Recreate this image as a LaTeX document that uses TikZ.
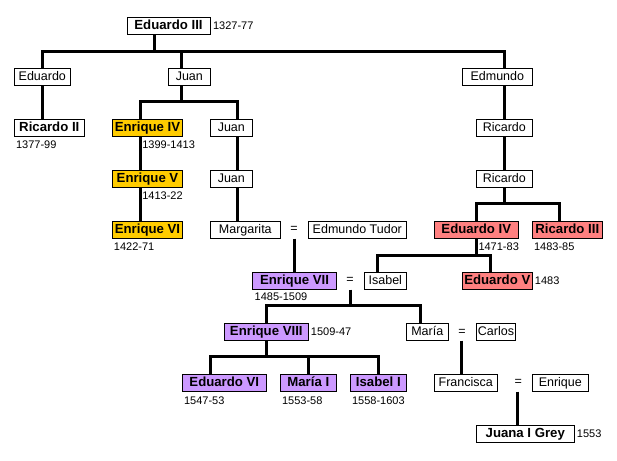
\documentclass[tikz,border=0pt]{standalone}
\usepackage{fontspec}
\setmainfont{Liberation Sans}
\definecolor{gold}{RGB}{255,204,0}
\definecolor{rosy}{RGB}{255,128,128}
\definecolor{lilac}{RGB}{204,153,255}
\tikzset{
  person/.style={draw, line width=0.8pt, fill=white, inner sep=0pt, minimum height=17pt,
    text height=0.716em, text depth=0pt, font=\fontsize{12.5}{13}\selectfont},
  ruler/.style={person, font=\fontsize{13.2}{14}\selectfont\bfseries},
  lancaster/.style={ruler, fill=gold},
  york/.style={ruler, fill=rosy},
  tudor/.style={ruler, fill=lilac},
  dates/.style={inner sep=0pt, font=\fontsize{11}{12}\selectfont},
  eqsign/.style={inner sep=0pt, minimum height=17pt, font=\fontsize{12.5}{13}\selectfont},
  link/.style={line width=3pt}
}
\begin{document}
\begin{tikzpicture}[x=1pt,y=-1pt]
\useasboundingbox (0,0) rectangle (617,460);
% nodes
\node[ruler, minimum width=83pt] (E3) at (168.5,25.8) {Eduardo III};
\node[person, minimum width=56pt] (Edw) at (42.3,76.8) {Eduardo};
\node[person, minimum width=42pt] (Jn1) at (189.3,76.8) {Juan};
\node[person, minimum width=70pt] (Edm) at (497.3,76.8) {Edmundo};
\node[ruler, minimum width=70pt] (R2) at (49.3,127.8) {Ricardo II};
\node[lancaster, minimum width=70pt] (H4) at (147.5,127.8) {Enrique IV};
\node[person, minimum width=42pt] (Jn2) at (231.3,127.8) {Juan};
\node[person, minimum width=56pt] (Ri1) at (504.3,127.8) {Ricardo};
\node[lancaster, minimum width=70pt] (H5) at (147.5,179) {Enrique V};
\node[person, minimum width=42pt] (Jn3) at (231.3,179) {Juan};
\node[person, minimum width=56pt] (Ri2) at (504.3,179) {Ricardo};
\node[lancaster, minimum width=70pt] (H6) at (147.5,229.8) {Enrique VI};
\node[person, minimum width=70pt] (Mar) at (245.3,229.8) {Margarita};
\node[eqsign] (eq1) at (294,229.8) {=};
\node[person, minimum width=98pt] (EdT) at (357.3,229.8) {Edmundo Tudor};
\node[york, minimum width=84pt] (Ed4) at (476.3,229.8) {Eduardo IV};
\node[york, minimum width=70pt] (R3) at (567.3,229.8) {Ricardo III};
\node[tudor, minimum width=84pt] (H7) at (294.5,280.8) {Enrique VII};
\node[eqsign] (eq2) at (350,280.8) {=};
\node[person, minimum width=42pt] (Isa) at (385.3,280.8) {Isabel};
\node[york, minimum width=70pt] (Ed5) at (497.3,280.8) {Eduardo V};
\node[tudor, minimum width=84pt] (H8) at (266.3,332) {Enrique VIII};
\node[person, minimum width=42pt] (MaR) at (427.3,332) {María};
\node[eqsign] (eq3) at (462,332) {=};
\node[person, minimum width=39.4pt] (Car) at (496,332) {Carlos};
\node[tudor, minimum width=84pt] (Ed6) at (224.3,382.8) {Eduardo VI};
\node[tudor, minimum width=56pt] (MaI) at (308.3,382.8) {María I};
\node[tudor, minimum width=56pt] (IsI) at (378.3,382.8) {Isabel I};
\node[person, minimum width=62.7pt] (Fra) at (465.7,382.8) {Francisca};
\node[eqsign] (eq4) at (518.3,382.8) {=};
\node[person, minimum width=56pt] (Enr) at (560.3,382.8) {Enrique};
\node[ruler, minimum width=98pt] (Jua) at (525.3,434) {Juana I Grey};
% dates
\node[dates, anchor=west] (dE3) at ([xshift=2.5pt]E3.east) {1327-77};
\node[dates, anchor=west] (dR2) at ([xshift=2pt,yshift=-8pt]R2.south west) {1377-99};
\node[dates, anchor=west] (dH4) at ([xshift=30pt,yshift=-8pt]H4.south west) {1399-1413};
\node[dates, anchor=west] (dH5) at ([xshift=30pt,yshift=-8pt]H5.south west) {1413-22};
\node[dates, anchor=west] (dH6) at ([xshift=1.6pt,yshift=-8pt]H6.south west) {1422-71};
\node[dates, anchor=west] (dEd4) at ([xshift=2pt,yshift=-8pt]Ed4.south) {1471-83};
\node[dates, anchor=west] (dR3) at ([xshift=2pt,yshift=-8pt]R3.south west) {1483-85};
\node[dates, anchor=west] (dH7) at ([xshift=2.4pt,yshift=-7.5pt]H7.south west) {1485-1509};
\node[dates, anchor=west] (dEd5) at ([xshift=2pt]Ed5.east) {1483};
\node[dates, anchor=west] (dH8) at ([xshift=2pt]H8.east) {1509-47};
\node[dates, anchor=west] (dEd6) at ([xshift=2pt,yshift=-8.7pt]Ed6.south west) {1547-53};
\node[dates, anchor=west] (dMaI) at ([xshift=2pt,yshift=-8.7pt]MaI.south west) {1553-58};
\node[dates, anchor=west] (dIsI) at ([xshift=2pt,yshift=-8.7pt]IsI.south west) {1558-1603};
\node[dates, anchor=west] (dJua) at ([xshift=2pt]Jua.east) {1553};
% junction coordinates
\coordinate (j1) at (154,51);
\coordinate (j2) at (181.7,101);
\coordinate (j3) at (504,203.3);
\coordinate (j4) at (476.3,255);
\coordinate (j5) at (350,305.7);
\coordinate (j6) at (266.3,356.7);
% connectors
\begin{scope}[on background layer/.try]
\draw[link] ([xshift=-14.5pt]E3.south) -- (j1);
\draw[link] (Edw.north) |- (j1) -| ([xshift=6.7pt]Edm.north);
\draw[link] ([xshift=-7.6pt]Jn1.north) -- ([xshift=-7.6pt]Jn1.north |- j1);
\draw[link] (Edw.south) -- (Edw.south |- R2.north);
\draw[link] ([xshift=-7.6pt]Jn1.south) -- (j2);
\draw[link] ([xshift=-7.5pt]H4.north) |- (j2) -| ([xshift=6.4pt]Jn2.north);
\draw[link] ([xshift=-7.5pt]H4.south) -- ([xshift=-7.5pt]H5.north);
\draw[link] ([xshift=-7.5pt]H5.south) -- ([xshift=-7.5pt]H6.north);
\draw[link] ([xshift=6.4pt]Jn2.south) -- ([xshift=6.4pt]Jn3.north);
\draw[link] ([xshift=6.4pt]Jn3.south) -- ([xshift=-7.6pt]Mar.north);
\draw[link] ([xshift=6.7pt]Edm.south) -- ([xshift=-0.3pt]Ri1.north);
\draw[link] ([xshift=-0.3pt]Ri1.south) -- ([xshift=-0.3pt]Ri2.north);
\draw[link] ([xshift=-0.3pt]Ri2.south) -- (j3);
\draw[link] (Ed4.north) |- (j3) -| ([xshift=-7.6pt]R3.north);
\draw[link] (Ed4.south) -- (j4);
\draw[link] ([xshift=-7.6pt]Isa.north) |- (j4) -| ([xshift=-7.3pt]Ed5.north);
\draw[link] (eq1.south) -- (eq1.south |- H7.north);
\draw[link] (eq2.south) -- (j5);
\draw[link] (H8.north) |- (j5) -| ([xshift=-7.3pt]MaR.north);
\draw[link] (H8.south) -- (j6);
\draw[link] ([xshift=-14.3pt]Ed6.north) |- (j6) -| (IsI.north);
\draw[link] (MaI.north) -- (MaI.north |- j6);
\draw[link] ([xshift=-0.3pt]eq3.south) -- ([xshift=-4pt]Fra.north);
\draw[link] ([xshift=-0.6pt]eq4.south) -- ([xshift=-7.6pt]Jua.north);
\end{scope}
\end{tikzpicture}
\end{document}
